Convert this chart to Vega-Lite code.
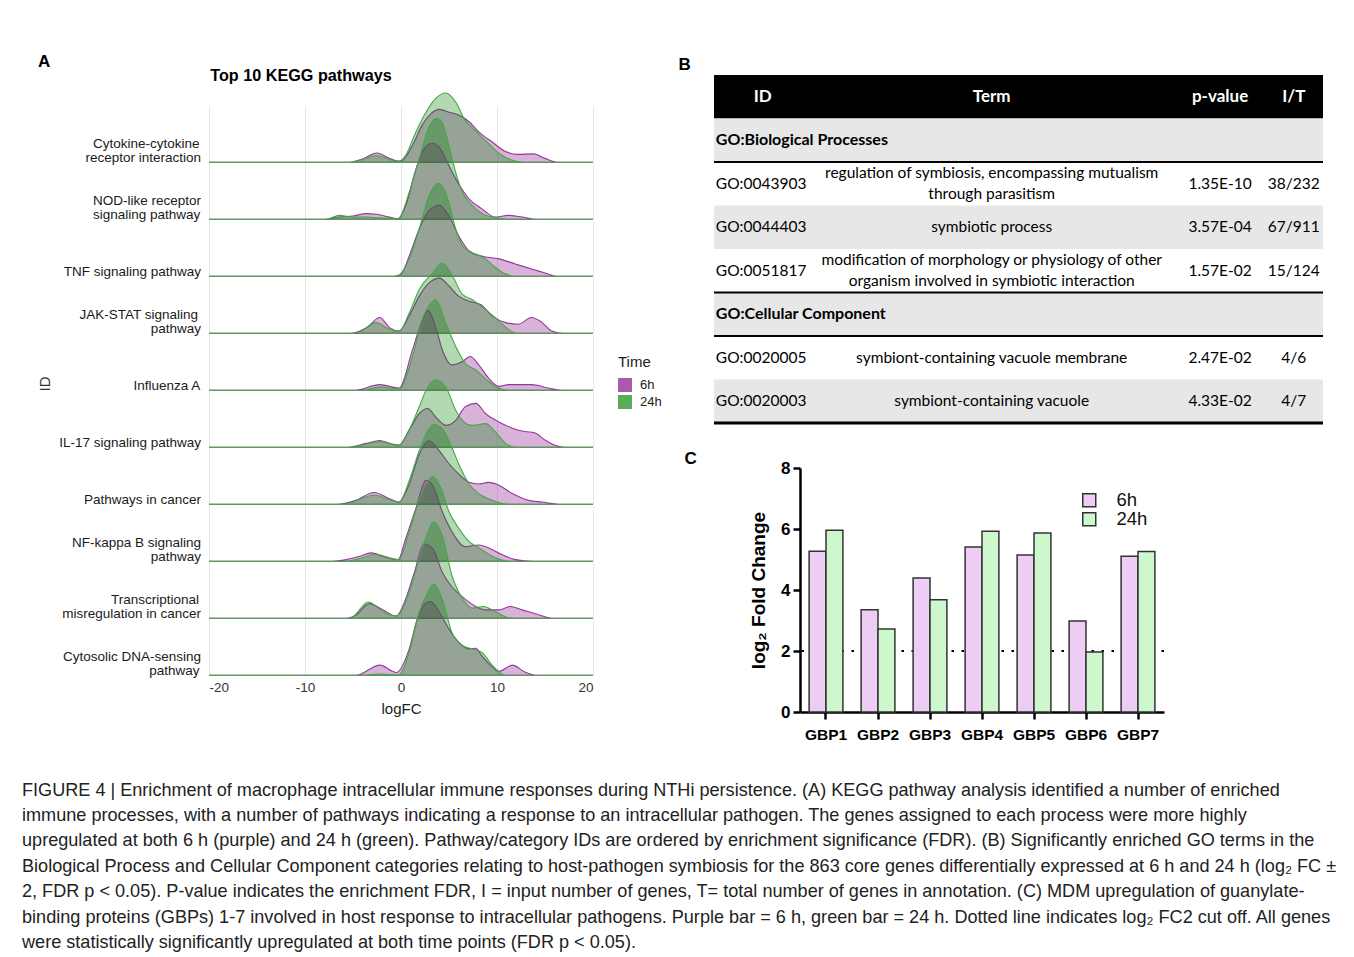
{
  "$schema": "https://vega.github.io/schema/vega-lite/v6.json",
  "background": "white",
  "padding": {"left": 22, "top": 53, "right": 0, "bottom": 0},
  "config": {
    "view": {"stroke": null},
    "font": "Liberation Sans",
    "title": {"font": "Liberation Sans", "color": "black"},
    "axis": {"labelFont": "Liberation Sans", "titleFont": "Liberation Sans"},
    "legend": {"labelFont": "Liberation Sans", "titleFont": "Liberation Sans"},
    "header": {"labelFont": "Liberation Sans", "titleFont": "Liberation Sans"}
  },
  "title": {
    "text": [
      "FIGURE 4 | Enrichment of macrophage intracellular immune responses during NTHi persistence. (A) KEGG pathway analysis identified a number of enriched",
      "immune processes, with a number of pathways indicating a response to an intracellular pathogen. The genes assigned to each process were more highly",
      "upregulated at both 6 h (purple) and 24 h (green). Pathway/category IDs are ordered by enrichment significance (FDR). (B) Significantly enriched GO terms in the",
      "Biological Process and Cellular Component categories relating to host-pathogen symbiosis for the 863 core genes differentially expressed at 6 h and 24 h (log₂ FC ±",
      "2, FDR p < 0.05). P-value indicates the enrichment FDR, I = input number of genes, T= total number of genes in annotation. (C) MDM upregulation of guanylate-",
      "binding proteins (GBPs) 1-7 involved in host response to intracellular pathogens. Purple bar = 6 h, green bar = 24 h. Dotted line indicates log₂ FC2 cut off. All genes",
      "were statistically significantly upregulated at both time points (FDR p < 0.05)."
    ],
    "orient": "bottom",
    "anchor": "start",
    "frame": "bounds",
    "dx": -16,
    "offset": 39,
    "fontSize": 18.1,
    "fontWeight": "normal",
    "lineHeight": 25.4,
    "color": "#222222"
  },
  "spacing": 16,
  "resolve": {"scale": {"fill": "independent", "stroke": "independent", "x": "independent", "y": "independent"}},
  "hconcat": [
    {
      "title": {"text": "A", "anchor": "start", "frame": "bounds", "fontSize": 17, "fontWeight": "bold", "offset": -3},
      "spacing": 5,
      "vconcat": [
        {
          "width": 184,
          "height": 2,
          "data": {"values": [{"label": "Top 10 KEGG pathways"}]},
          "mark": {"type": "text", "fontSize": 16.2, "fontWeight": "bold", "color": "#000000", "align": "center", "baseline": "middle"},
          "encoding": {"text": {"field": "label"}}
        },
        {
          "data": {"values": [
{"ID":"Cytokine-cytokine receptor interaction","Time":"6h","logFC":-20,"density":0},
{"ID":"Cytokine-cytokine receptor interaction","Time":"6h","logFC":-5.4,"density":0},
{"ID":"Cytokine-cytokine receptor interaction","Time":"6h","logFC":-4,"density":0.06},
{"ID":"Cytokine-cytokine receptor interaction","Time":"6h","logFC":-2.5,"density":0.165},
{"ID":"Cytokine-cytokine receptor interaction","Time":"6h","logFC":-1.2,"density":0.07},
{"ID":"Cytokine-cytokine receptor interaction","Time":"6h","logFC":-0.3,"density":0.02},
{"ID":"Cytokine-cytokine receptor interaction","Time":"6h","logFC":0.2,"density":0.04},
{"ID":"Cytokine-cytokine receptor interaction","Time":"6h","logFC":1.2,"density":0.3},
{"ID":"Cytokine-cytokine receptor interaction","Time":"6h","logFC":2.2,"density":0.66},
{"ID":"Cytokine-cytokine receptor interaction","Time":"6h","logFC":3.1,"density":0.86},
{"ID":"Cytokine-cytokine receptor interaction","Time":"6h","logFC":4.0,"density":0.94},
{"ID":"Cytokine-cytokine receptor interaction","Time":"6h","logFC":5.0,"density":0.89},
{"ID":"Cytokine-cytokine receptor interaction","Time":"6h","logFC":6.0,"density":0.84},
{"ID":"Cytokine-cytokine receptor interaction","Time":"6h","logFC":7.1,"density":0.72},
{"ID":"Cytokine-cytokine receptor interaction","Time":"6h","logFC":8.1,"density":0.54},
{"ID":"Cytokine-cytokine receptor interaction","Time":"6h","logFC":9.5,"density":0.36},
{"ID":"Cytokine-cytokine receptor interaction","Time":"6h","logFC":10.9,"density":0.19},
{"ID":"Cytokine-cytokine receptor interaction","Time":"6h","logFC":12.2,"density":0.14},
{"ID":"Cytokine-cytokine receptor interaction","Time":"6h","logFC":13.8,"density":0.15},
{"ID":"Cytokine-cytokine receptor interaction","Time":"6h","logFC":15.0,"density":0.07},
{"ID":"Cytokine-cytokine receptor interaction","Time":"6h","logFC":16.4,"density":0},
{"ID":"Cytokine-cytokine receptor interaction","Time":"6h","logFC":20,"density":0},
{"ID":"Cytokine-cytokine receptor interaction","Time":"24h","logFC":-20,"density":0},
{"ID":"Cytokine-cytokine receptor interaction","Time":"24h","logFC":-5.3,"density":0},
{"ID":"Cytokine-cytokine receptor interaction","Time":"24h","logFC":-4,"density":0.05},
{"ID":"Cytokine-cytokine receptor interaction","Time":"24h","logFC":-2.6,"density":0.12},
{"ID":"Cytokine-cytokine receptor interaction","Time":"24h","logFC":-1.2,"density":0.05},
{"ID":"Cytokine-cytokine receptor interaction","Time":"24h","logFC":-0.3,"density":0.01},
{"ID":"Cytokine-cytokine receptor interaction","Time":"24h","logFC":0.5,"density":0.13},
{"ID":"Cytokine-cytokine receptor interaction","Time":"24h","logFC":1.55,"density":0.54},
{"ID":"Cytokine-cytokine receptor interaction","Time":"24h","logFC":2.6,"density":0.89},
{"ID":"Cytokine-cytokine receptor interaction","Time":"24h","logFC":3.6,"density":1.13},
{"ID":"Cytokine-cytokine receptor interaction","Time":"24h","logFC":4.66,"density":1.23},
{"ID":"Cytokine-cytokine receptor interaction","Time":"24h","logFC":5.7,"density":1.07},
{"ID":"Cytokine-cytokine receptor interaction","Time":"24h","logFC":6.7,"density":0.74},
{"ID":"Cytokine-cytokine receptor interaction","Time":"24h","logFC":7.4,"density":0.62},
{"ID":"Cytokine-cytokine receptor interaction","Time":"24h","logFC":8.8,"density":0.39},
{"ID":"Cytokine-cytokine receptor interaction","Time":"24h","logFC":10.2,"density":0.16},
{"ID":"Cytokine-cytokine receptor interaction","Time":"24h","logFC":11.5,"density":0.04},
{"ID":"Cytokine-cytokine receptor interaction","Time":"24h","logFC":12.9,"density":0},
{"ID":"Cytokine-cytokine receptor interaction","Time":"24h","logFC":20,"density":0},
{"ID":"NOD-like receptor signaling pathway","Time":"6h","logFC":-20,"density":0},
{"ID":"NOD-like receptor signaling pathway","Time":"6h","logFC":-8.1,"density":0},
{"ID":"NOD-like receptor signaling pathway","Time":"6h","logFC":-6.4,"density":0.04},
{"ID":"NOD-like receptor signaling pathway","Time":"6h","logFC":-5,"density":0.06},
{"ID":"NOD-like receptor signaling pathway","Time":"6h","logFC":-3.6,"density":0.1},
{"ID":"NOD-like receptor signaling pathway","Time":"6h","logFC":-2.6,"density":0.09},
{"ID":"NOD-like receptor signaling pathway","Time":"6h","logFC":-1.2,"density":0.04},
{"ID":"NOD-like receptor signaling pathway","Time":"6h","logFC":-0.3,"density":0.01},
{"ID":"NOD-like receptor signaling pathway","Time":"6h","logFC":0.5,"density":0.25},
{"ID":"NOD-like receptor signaling pathway","Time":"6h","logFC":1.55,"density":0.89},
{"ID":"NOD-like receptor signaling pathway","Time":"6h","logFC":2.4,"density":1.25},
{"ID":"NOD-like receptor signaling pathway","Time":"6h","logFC":3.3,"density":1.35},
{"ID":"NOD-like receptor signaling pathway","Time":"6h","logFC":4.1,"density":1.25},
{"ID":"NOD-like receptor signaling pathway","Time":"6h","logFC":5.0,"density":0.95},
{"ID":"NOD-like receptor signaling pathway","Time":"6h","logFC":6.0,"density":0.63},
{"ID":"NOD-like receptor signaling pathway","Time":"6h","logFC":7.1,"density":0.36},
{"ID":"NOD-like receptor signaling pathway","Time":"6h","logFC":8.4,"density":0.19},
{"ID":"NOD-like receptor signaling pathway","Time":"6h","logFC":9.8,"density":0.04},
{"ID":"NOD-like receptor signaling pathway","Time":"6h","logFC":11.2,"density":0.07},
{"ID":"NOD-like receptor signaling pathway","Time":"6h","logFC":12.6,"density":0.04},
{"ID":"NOD-like receptor signaling pathway","Time":"6h","logFC":14.1,"density":0},
{"ID":"NOD-like receptor signaling pathway","Time":"6h","logFC":20,"density":0},
{"ID":"NOD-like receptor signaling pathway","Time":"24h","logFC":-20,"density":0},
{"ID":"NOD-like receptor signaling pathway","Time":"24h","logFC":-7.8,"density":0},
{"ID":"NOD-like receptor signaling pathway","Time":"24h","logFC":-6.4,"density":0.07},
{"ID":"NOD-like receptor signaling pathway","Time":"24h","logFC":-5,"density":0.04},
{"ID":"NOD-like receptor signaling pathway","Time":"24h","logFC":-3.6,"density":0.04},
{"ID":"NOD-like receptor signaling pathway","Time":"24h","logFC":-1.5,"density":0.02},
{"ID":"NOD-like receptor signaling pathway","Time":"24h","logFC":-0.3,"density":0.01},
{"ID":"NOD-like receptor signaling pathway","Time":"24h","logFC":0.86,"density":0.48},
{"ID":"NOD-like receptor signaling pathway","Time":"24h","logFC":1.9,"density":1.07},
{"ID":"NOD-like receptor signaling pathway","Time":"24h","logFC":2.9,"density":1.63},
{"ID":"NOD-like receptor signaling pathway","Time":"24h","logFC":3.7,"density":1.79},
{"ID":"NOD-like receptor signaling pathway","Time":"24h","logFC":4.3,"density":1.72},
{"ID":"NOD-like receptor signaling pathway","Time":"24h","logFC":5.0,"density":1.3},
{"ID":"NOD-like receptor signaling pathway","Time":"24h","logFC":5.7,"density":0.83},
{"ID":"NOD-like receptor signaling pathway","Time":"24h","logFC":6.4,"density":0.48},
{"ID":"NOD-like receptor signaling pathway","Time":"24h","logFC":7.4,"density":0.25},
{"ID":"NOD-like receptor signaling pathway","Time":"24h","logFC":8.8,"density":0.07},
{"ID":"NOD-like receptor signaling pathway","Time":"24h","logFC":10.2,"density":0.02},
{"ID":"NOD-like receptor signaling pathway","Time":"24h","logFC":11,"density":0},
{"ID":"NOD-like receptor signaling pathway","Time":"24h","logFC":20,"density":0},
{"ID":"TNF signaling pathway","Time":"6h","logFC":-20,"density":0},
{"ID":"TNF signaling pathway","Time":"6h","logFC":-0.7,"density":0},
{"ID":"TNF signaling pathway","Time":"6h","logFC":0,"density":0.04},
{"ID":"TNF signaling pathway","Time":"6h","logFC":0.86,"density":0.36},
{"ID":"TNF signaling pathway","Time":"6h","logFC":1.9,"density":0.84},
{"ID":"TNF signaling pathway","Time":"6h","logFC":2.9,"density":1.16},
{"ID":"TNF signaling pathway","Time":"6h","logFC":4.0,"density":1.26},
{"ID":"TNF signaling pathway","Time":"6h","logFC":5.0,"density":1.07},
{"ID":"TNF signaling pathway","Time":"6h","logFC":6.0,"density":0.72},
{"ID":"TNF signaling pathway","Time":"6h","logFC":7.1,"density":0.45},
{"ID":"TNF signaling pathway","Time":"6h","logFC":8.4,"density":0.36},
{"ID":"TNF signaling pathway","Time":"6h","logFC":10.2,"density":0.31},
{"ID":"TNF signaling pathway","Time":"6h","logFC":11.9,"density":0.22},
{"ID":"TNF signaling pathway","Time":"6h","logFC":13.6,"density":0.13},
{"ID":"TNF signaling pathway","Time":"6h","logFC":15.0,"density":0.06},
{"ID":"TNF signaling pathway","Time":"6h","logFC":16.2,"density":0},
{"ID":"TNF signaling pathway","Time":"6h","logFC":20,"density":0},
{"ID":"TNF signaling pathway","Time":"24h","logFC":-20,"density":0},
{"ID":"TNF signaling pathway","Time":"24h","logFC":-0.5,"density":0},
{"ID":"TNF signaling pathway","Time":"24h","logFC":0.86,"density":0.31},
{"ID":"TNF signaling pathway","Time":"24h","logFC":1.9,"density":0.84},
{"ID":"TNF signaling pathway","Time":"24h","logFC":2.9,"density":1.42},
{"ID":"TNF signaling pathway","Time":"24h","logFC":3.9,"density":1.65},
{"ID":"TNF signaling pathway","Time":"24h","logFC":4.66,"density":1.48},
{"ID":"TNF signaling pathway","Time":"24h","logFC":5.7,"density":0.84},
{"ID":"TNF signaling pathway","Time":"24h","logFC":6.4,"density":0.54},
{"ID":"TNF signaling pathway","Time":"24h","logFC":7.4,"density":0.42},
{"ID":"TNF signaling pathway","Time":"24h","logFC":8.8,"density":0.31},
{"ID":"TNF signaling pathway","Time":"24h","logFC":9.8,"density":0.16},
{"ID":"TNF signaling pathway","Time":"24h","logFC":10.9,"density":0.04},
{"ID":"TNF signaling pathway","Time":"24h","logFC":11.9,"density":0},
{"ID":"TNF signaling pathway","Time":"24h","logFC":20,"density":0},
{"ID":"JAK-STAT signaling pathway","Time":"6h","logFC":-20,"density":0},
{"ID":"JAK-STAT signaling pathway","Time":"6h","logFC":-5.3,"density":0},
{"ID":"JAK-STAT signaling pathway","Time":"6h","logFC":-3.6,"density":0.1},
{"ID":"JAK-STAT signaling pathway","Time":"6h","logFC":-2.2,"density":0.28},
{"ID":"JAK-STAT signaling pathway","Time":"6h","logFC":-1.2,"density":0.1},
{"ID":"JAK-STAT signaling pathway","Time":"6h","logFC":-0.2,"density":0.04},
{"ID":"JAK-STAT signaling pathway","Time":"6h","logFC":0.86,"density":0.31},
{"ID":"JAK-STAT signaling pathway","Time":"6h","logFC":1.9,"density":0.66},
{"ID":"JAK-STAT signaling pathway","Time":"6h","logFC":2.9,"density":0.89},
{"ID":"JAK-STAT signaling pathway","Time":"6h","logFC":4.0,"density":0.98},
{"ID":"JAK-STAT signaling pathway","Time":"6h","logFC":5.0,"density":0.84},
{"ID":"JAK-STAT signaling pathway","Time":"6h","logFC":6.0,"density":0.66},
{"ID":"JAK-STAT signaling pathway","Time":"6h","logFC":7.1,"density":0.57},
{"ID":"JAK-STAT signaling pathway","Time":"6h","logFC":8.3,"density":0.51},
{"ID":"JAK-STAT signaling pathway","Time":"6h","logFC":9.5,"density":0.31},
{"ID":"JAK-STAT signaling pathway","Time":"6h","logFC":10.9,"density":0.19},
{"ID":"JAK-STAT signaling pathway","Time":"6h","logFC":12.2,"density":0.16},
{"ID":"JAK-STAT signaling pathway","Time":"6h","logFC":13.6,"density":0.28},
{"ID":"JAK-STAT signaling pathway","Time":"6h","logFC":14.7,"density":0.19},
{"ID":"JAK-STAT signaling pathway","Time":"6h","logFC":15.7,"density":0.04},
{"ID":"JAK-STAT signaling pathway","Time":"6h","logFC":16.9,"density":0},
{"ID":"JAK-STAT signaling pathway","Time":"6h","logFC":20,"density":0},
{"ID":"JAK-STAT signaling pathway","Time":"24h","logFC":-20,"density":0},
{"ID":"JAK-STAT signaling pathway","Time":"24h","logFC":-4.6,"density":0},
{"ID":"JAK-STAT signaling pathway","Time":"24h","logFC":-2.6,"density":0.19},
{"ID":"JAK-STAT signaling pathway","Time":"24h","logFC":-1.2,"density":0.07},
{"ID":"JAK-STAT signaling pathway","Time":"24h","logFC":-0.2,"density":0.03},
{"ID":"JAK-STAT signaling pathway","Time":"24h","logFC":0.86,"density":0.36},
{"ID":"JAK-STAT signaling pathway","Time":"24h","logFC":1.9,"density":0.78},
{"ID":"JAK-STAT signaling pathway","Time":"24h","logFC":3.3,"density":1.07},
{"ID":"JAK-STAT signaling pathway","Time":"24h","logFC":4.3,"density":1.25},
{"ID":"JAK-STAT signaling pathway","Time":"24h","logFC":5.3,"density":1.04},
{"ID":"JAK-STAT signaling pathway","Time":"24h","logFC":6.4,"density":0.69},
{"ID":"JAK-STAT signaling pathway","Time":"24h","logFC":7.4,"density":0.6},
{"ID":"JAK-STAT signaling pathway","Time":"24h","logFC":8.8,"density":0.42},
{"ID":"JAK-STAT signaling pathway","Time":"24h","logFC":10.2,"density":0.22},
{"ID":"JAK-STAT signaling pathway","Time":"24h","logFC":11.2,"density":0.07},
{"ID":"JAK-STAT signaling pathway","Time":"24h","logFC":12.2,"density":0},
{"ID":"JAK-STAT signaling pathway","Time":"24h","logFC":20,"density":0},
{"ID":"Influenza A","Time":"6h","logFC":-20,"density":0},
{"ID":"Influenza A","Time":"6h","logFC":-4.8,"density":0},
{"ID":"Influenza A","Time":"6h","logFC":-2.2,"density":0.1},
{"ID":"Influenza A","Time":"6h","logFC":-0.2,"density":0.04},
{"ID":"Influenza A","Time":"6h","logFC":1.2,"density":0.72},
{"ID":"Influenza A","Time":"6h","logFC":2.1,"density":1.19},
{"ID":"Influenza A","Time":"6h","logFC":2.8,"density":1.42},
{"ID":"Influenza A","Time":"6h","logFC":3.6,"density":1.13},
{"ID":"Influenza A","Time":"6h","logFC":4.3,"density":0.72},
{"ID":"Influenza A","Time":"6h","logFC":5.3,"density":0.45},
{"ID":"Influenza A","Time":"6h","logFC":6.4,"density":0.51},
{"ID":"Influenza A","Time":"6h","logFC":7.2,"density":0.6},
{"ID":"Influenza A","Time":"6h","logFC":8.1,"density":0.45},
{"ID":"Influenza A","Time":"6h","logFC":9.1,"density":0.22},
{"ID":"Influenza A","Time":"6h","logFC":10.2,"density":0.07},
{"ID":"Influenza A","Time":"6h","logFC":11.2,"density":0.1},
{"ID":"Influenza A","Time":"6h","logFC":13.6,"density":0.1},
{"ID":"Influenza A","Time":"6h","logFC":15.3,"density":0.04},
{"ID":"Influenza A","Time":"6h","logFC":16.7,"density":0},
{"ID":"Influenza A","Time":"6h","logFC":20,"density":0},
{"ID":"Influenza A","Time":"24h","logFC":-20,"density":0},
{"ID":"Influenza A","Time":"24h","logFC":-4,"density":0},
{"ID":"Influenza A","Time":"24h","logFC":-2.2,"density":0.06},
{"ID":"Influenza A","Time":"24h","logFC":-0.2,"density":0.02},
{"ID":"Influenza A","Time":"24h","logFC":1.2,"density":0.6},
{"ID":"Influenza A","Time":"24h","logFC":2.2,"density":1.25},
{"ID":"Influenza A","Time":"24h","logFC":3.1,"density":1.54},
{"ID":"Influenza A","Time":"24h","logFC":3.6,"density":1.61},
{"ID":"Influenza A","Time":"24h","logFC":4.66,"density":1.19},
{"ID":"Influenza A","Time":"24h","logFC":5.7,"density":0.78},
{"ID":"Influenza A","Time":"24h","logFC":6.7,"density":0.48},
{"ID":"Influenza A","Time":"24h","logFC":7.8,"density":0.36},
{"ID":"Influenza A","Time":"24h","logFC":9.1,"density":0.16},
{"ID":"Influenza A","Time":"24h","logFC":10.5,"density":0.02},
{"ID":"Influenza A","Time":"24h","logFC":11.5,"density":0},
{"ID":"Influenza A","Time":"24h","logFC":20,"density":0},
{"ID":"IL-17 signaling pathway","Time":"6h","logFC":-20,"density":0},
{"ID":"IL-17 signaling pathway","Time":"6h","logFC":-5.7,"density":0},
{"ID":"IL-17 signaling pathway","Time":"6h","logFC":-3.6,"density":0.07},
{"ID":"IL-17 signaling pathway","Time":"6h","logFC":-2.2,"density":0.12},
{"ID":"IL-17 signaling pathway","Time":"6h","logFC":-1.2,"density":0.07},
{"ID":"IL-17 signaling pathway","Time":"6h","logFC":-0.2,"density":0.04},
{"ID":"IL-17 signaling pathway","Time":"6h","logFC":0.86,"density":0.31},
{"ID":"IL-17 signaling pathway","Time":"6h","logFC":1.9,"density":0.6},
{"ID":"IL-17 signaling pathway","Time":"6h","logFC":2.8,"density":0.69},
{"ID":"IL-17 signaling pathway","Time":"6h","logFC":3.6,"density":0.54},
{"ID":"IL-17 signaling pathway","Time":"6h","logFC":4.66,"density":0.39},
{"ID":"IL-17 signaling pathway","Time":"6h","logFC":5.7,"density":0.48},
{"ID":"IL-17 signaling pathway","Time":"6h","logFC":6.7,"density":0.72},
{"ID":"IL-17 signaling pathway","Time":"6h","logFC":7.8,"density":0.78},
{"ID":"IL-17 signaling pathway","Time":"6h","logFC":8.8,"density":0.6},
{"ID":"IL-17 signaling pathway","Time":"6h","logFC":10.2,"density":0.45},
{"ID":"IL-17 signaling pathway","Time":"6h","logFC":11.6,"density":0.34},
{"ID":"IL-17 signaling pathway","Time":"6h","logFC":12.9,"density":0.28},
{"ID":"IL-17 signaling pathway","Time":"6h","logFC":13.9,"density":0.26},
{"ID":"IL-17 signaling pathway","Time":"6h","logFC":15.0,"density":0.13},
{"ID":"IL-17 signaling pathway","Time":"6h","logFC":16.0,"density":0.04},
{"ID":"IL-17 signaling pathway","Time":"6h","logFC":17.1,"density":0},
{"ID":"IL-17 signaling pathway","Time":"6h","logFC":20,"density":0},
{"ID":"IL-17 signaling pathway","Time":"24h","logFC":-20,"density":0},
{"ID":"IL-17 signaling pathway","Time":"24h","logFC":-5.3,"density":0},
{"ID":"IL-17 signaling pathway","Time":"24h","logFC":-2.2,"density":0.1},
{"ID":"IL-17 signaling pathway","Time":"24h","logFC":-0.2,"density":0.03},
{"ID":"IL-17 signaling pathway","Time":"24h","logFC":0.86,"density":0.31},
{"ID":"IL-17 signaling pathway","Time":"24h","logFC":1.9,"density":0.72},
{"ID":"IL-17 signaling pathway","Time":"24h","logFC":2.6,"density":1.01},
{"ID":"IL-17 signaling pathway","Time":"24h","logFC":3.6,"density":1.2},
{"ID":"IL-17 signaling pathway","Time":"24h","logFC":4.66,"density":1.07},
{"ID":"IL-17 signaling pathway","Time":"24h","logFC":5.7,"density":0.66},
{"ID":"IL-17 signaling pathway","Time":"24h","logFC":6.4,"density":0.48},
{"ID":"IL-17 signaling pathway","Time":"24h","logFC":7.4,"density":0.39},
{"ID":"IL-17 signaling pathway","Time":"24h","logFC":8.8,"density":0.42},
{"ID":"IL-17 signaling pathway","Time":"24h","logFC":9.8,"density":0.28},
{"ID":"IL-17 signaling pathway","Time":"24h","logFC":10.9,"density":0.07},
{"ID":"IL-17 signaling pathway","Time":"24h","logFC":11.9,"density":0},
{"ID":"IL-17 signaling pathway","Time":"24h","logFC":20,"density":0},
{"ID":"Pathways in cancer","Time":"6h","logFC":-20,"density":0},
{"ID":"Pathways in cancer","Time":"6h","logFC":-6.7,"density":0},
{"ID":"Pathways in cancer","Time":"6h","logFC":-4.7,"density":0.07},
{"ID":"Pathways in cancer","Time":"6h","logFC":-2.8,"density":0.21},
{"ID":"Pathways in cancer","Time":"6h","logFC":-1.2,"density":0.1},
{"ID":"Pathways in cancer","Time":"6h","logFC":-0.2,"density":0.04},
{"ID":"Pathways in cancer","Time":"6h","logFC":0.86,"density":0.36},
{"ID":"Pathways in cancer","Time":"6h","logFC":1.9,"density":0.89},
{"ID":"Pathways in cancer","Time":"6h","logFC":2.9,"density":1.13},
{"ID":"Pathways in cancer","Time":"6h","logFC":4.0,"density":0.95},
{"ID":"Pathways in cancer","Time":"6h","logFC":5.0,"density":0.72},
{"ID":"Pathways in cancer","Time":"6h","logFC":6.0,"density":0.54},
{"ID":"Pathways in cancer","Time":"6h","logFC":7.1,"density":0.39},
{"ID":"Pathways in cancer","Time":"6h","logFC":8.1,"density":0.36},
{"ID":"Pathways in cancer","Time":"6h","logFC":9.1,"density":0.39},
{"ID":"Pathways in cancer","Time":"6h","logFC":10.2,"density":0.34},
{"ID":"Pathways in cancer","Time":"6h","logFC":11.6,"density":0.19},
{"ID":"Pathways in cancer","Time":"6h","logFC":13.3,"density":0.07},
{"ID":"Pathways in cancer","Time":"6h","logFC":14.7,"density":0.04},
{"ID":"Pathways in cancer","Time":"6h","logFC":16.7,"density":0},
{"ID":"Pathways in cancer","Time":"6h","logFC":20,"density":0},
{"ID":"Pathways in cancer","Time":"24h","logFC":-20,"density":0},
{"ID":"Pathways in cancer","Time":"24h","logFC":-6,"density":0},
{"ID":"Pathways in cancer","Time":"24h","logFC":-2.8,"density":0.16},
{"ID":"Pathways in cancer","Time":"24h","logFC":-0.2,"density":0.04},
{"ID":"Pathways in cancer","Time":"24h","logFC":0.86,"density":0.42},
{"ID":"Pathways in cancer","Time":"24h","logFC":1.9,"density":0.95},
{"ID":"Pathways in cancer","Time":"24h","logFC":2.8,"density":1.31},
{"ID":"Pathways in cancer","Time":"24h","logFC":3.4,"density":1.42},
{"ID":"Pathways in cancer","Time":"24h","logFC":4.3,"density":1.34},
{"ID":"Pathways in cancer","Time":"24h","logFC":5.3,"density":1.01},
{"ID":"Pathways in cancer","Time":"24h","logFC":6.0,"density":0.72},
{"ID":"Pathways in cancer","Time":"24h","logFC":7.1,"density":0.36},
{"ID":"Pathways in cancer","Time":"24h","logFC":8.1,"density":0.19},
{"ID":"Pathways in cancer","Time":"24h","logFC":9.1,"density":0.1},
{"ID":"Pathways in cancer","Time":"24h","logFC":10.5,"density":0.02},
{"ID":"Pathways in cancer","Time":"24h","logFC":11.5,"density":0},
{"ID":"Pathways in cancer","Time":"24h","logFC":20,"density":0},
{"ID":"NF-kappa B signaling pathway","Time":"6h","logFC":-20,"density":0},
{"ID":"NF-kappa B signaling pathway","Time":"6h","logFC":-7.2,"density":0},
{"ID":"NF-kappa B signaling pathway","Time":"6h","logFC":-5.7,"density":0.03},
{"ID":"NF-kappa B signaling pathway","Time":"6h","logFC":-4.3,"density":0.09},
{"ID":"NF-kappa B signaling pathway","Time":"6h","logFC":-3.1,"density":0.15},
{"ID":"NF-kappa B signaling pathway","Time":"6h","logFC":-1.9,"density":0.09},
{"ID":"NF-kappa B signaling pathway","Time":"6h","logFC":-0.3,"density":0.03},
{"ID":"NF-kappa B signaling pathway","Time":"6h","logFC":0.5,"density":0.41},
{"ID":"NF-kappa B signaling pathway","Time":"6h","logFC":1.55,"density":0.94},
{"ID":"NF-kappa B signaling pathway","Time":"6h","logFC":2.6,"density":1.44},
{"ID":"NF-kappa B signaling pathway","Time":"6h","logFC":3.3,"density":1.35},
{"ID":"NF-kappa B signaling pathway","Time":"6h","logFC":4.3,"density":0.88},
{"ID":"NF-kappa B signaling pathway","Time":"6h","logFC":5.3,"density":0.53},
{"ID":"NF-kappa B signaling pathway","Time":"6h","logFC":6.7,"density":0.26},
{"ID":"NF-kappa B signaling pathway","Time":"6h","logFC":8.1,"density":0.29},
{"ID":"NF-kappa B signaling pathway","Time":"6h","logFC":9.1,"density":0.24},
{"ID":"NF-kappa B signaling pathway","Time":"6h","logFC":10.5,"density":0.12},
{"ID":"NF-kappa B signaling pathway","Time":"6h","logFC":11.9,"density":0.03},
{"ID":"NF-kappa B signaling pathway","Time":"6h","logFC":13.8,"density":0},
{"ID":"NF-kappa B signaling pathway","Time":"6h","logFC":20,"density":0},
{"ID":"NF-kappa B signaling pathway","Time":"24h","logFC":-20,"density":0},
{"ID":"NF-kappa B signaling pathway","Time":"24h","logFC":-6,"density":0},
{"ID":"NF-kappa B signaling pathway","Time":"24h","logFC":-4.3,"density":0.05},
{"ID":"NF-kappa B signaling pathway","Time":"24h","logFC":-2.6,"density":0.13},
{"ID":"NF-kappa B signaling pathway","Time":"24h","logFC":-1.6,"density":0.08},
{"ID":"NF-kappa B signaling pathway","Time":"24h","logFC":-0.2,"density":0.03},
{"ID":"NF-kappa B signaling pathway","Time":"24h","logFC":0.86,"density":0.53},
{"ID":"NF-kappa B signaling pathway","Time":"24h","logFC":1.9,"density":1.09},
{"ID":"NF-kappa B signaling pathway","Time":"24h","logFC":2.8,"density":1.41},
{"ID":"NF-kappa B signaling pathway","Time":"24h","logFC":3.3,"density":1.5},
{"ID":"NF-kappa B signaling pathway","Time":"24h","logFC":4.1,"density":1.32},
{"ID":"NF-kappa B signaling pathway","Time":"24h","logFC":5.0,"density":0.88},
{"ID":"NF-kappa B signaling pathway","Time":"24h","logFC":6.0,"density":0.59},
{"ID":"NF-kappa B signaling pathway","Time":"24h","logFC":7.1,"density":0.35},
{"ID":"NF-kappa B signaling pathway","Time":"24h","logFC":8.1,"density":0.24},
{"ID":"NF-kappa B signaling pathway","Time":"24h","logFC":9.5,"density":0.09},
{"ID":"NF-kappa B signaling pathway","Time":"24h","logFC":10.9,"density":0.01},
{"ID":"NF-kappa B signaling pathway","Time":"24h","logFC":12,"density":0},
{"ID":"NF-kappa B signaling pathway","Time":"24h","logFC":20,"density":0},
{"ID":"Transcriptional misregulation in cancer","Time":"6h","logFC":-20,"density":0},
{"ID":"Transcriptional misregulation in cancer","Time":"6h","logFC":-5.7,"density":0},
{"ID":"Transcriptional misregulation in cancer","Time":"6h","logFC":-4.7,"density":0.06},
{"ID":"Transcriptional misregulation in cancer","Time":"6h","logFC":-3.3,"density":0.26},
{"ID":"Transcriptional misregulation in cancer","Time":"6h","logFC":-1.9,"density":0.15},
{"ID":"Transcriptional misregulation in cancer","Time":"6h","logFC":-0.5,"density":0.04},
{"ID":"Transcriptional misregulation in cancer","Time":"6h","logFC":0.5,"density":0.35},
{"ID":"Transcriptional misregulation in cancer","Time":"6h","logFC":1.4,"density":0.82},
{"ID":"Transcriptional misregulation in cancer","Time":"6h","logFC":2.4,"density":1.32},
{"ID":"Transcriptional misregulation in cancer","Time":"6h","logFC":3.3,"density":1.24},
{"ID":"Transcriptional misregulation in cancer","Time":"6h","logFC":4.3,"density":0.82},
{"ID":"Transcriptional misregulation in cancer","Time":"6h","logFC":5.3,"density":0.56},
{"ID":"Transcriptional misregulation in cancer","Time":"6h","logFC":6.4,"density":0.38},
{"ID":"Transcriptional misregulation in cancer","Time":"6h","logFC":7.8,"density":0.21},
{"ID":"Transcriptional misregulation in cancer","Time":"6h","logFC":8.8,"density":0.15},
{"ID":"Transcriptional misregulation in cancer","Time":"6h","logFC":10.2,"density":0.15},
{"ID":"Transcriptional misregulation in cancer","Time":"6h","logFC":11.4,"density":0.21},
{"ID":"Transcriptional misregulation in cancer","Time":"6h","logFC":12.6,"density":0.15},
{"ID":"Transcriptional misregulation in cancer","Time":"6h","logFC":14.4,"density":0.06},
{"ID":"Transcriptional misregulation in cancer","Time":"6h","logFC":15.9,"density":0},
{"ID":"Transcriptional misregulation in cancer","Time":"6h","logFC":20,"density":0},
{"ID":"Transcriptional misregulation in cancer","Time":"24h","logFC":-20,"density":0},
{"ID":"Transcriptional misregulation in cancer","Time":"24h","logFC":-5.3,"density":0},
{"ID":"Transcriptional misregulation in cancer","Time":"24h","logFC":-3.4,"density":0.29},
{"ID":"Transcriptional misregulation in cancer","Time":"24h","logFC":-1.9,"density":0.12},
{"ID":"Transcriptional misregulation in cancer","Time":"24h","logFC":-0.5,"density":0.04},
{"ID":"Transcriptional misregulation in cancer","Time":"24h","logFC":0.86,"density":0.47},
{"ID":"Transcriptional misregulation in cancer","Time":"24h","logFC":1.9,"density":1.06},
{"ID":"Transcriptional misregulation in cancer","Time":"24h","logFC":2.8,"density":1.53},
{"ID":"Transcriptional misregulation in cancer","Time":"24h","logFC":3.4,"density":1.71},
{"ID":"Transcriptional misregulation in cancer","Time":"24h","logFC":4.3,"density":1.47},
{"ID":"Transcriptional misregulation in cancer","Time":"24h","logFC":5.3,"density":0.76},
{"ID":"Transcriptional misregulation in cancer","Time":"24h","logFC":6.4,"density":0.35},
{"ID":"Transcriptional misregulation in cancer","Time":"24h","logFC":7.4,"density":0.18},
{"ID":"Transcriptional misregulation in cancer","Time":"24h","logFC":8.6,"density":0.21},
{"ID":"Transcriptional misregulation in cancer","Time":"24h","logFC":9.8,"density":0.12},
{"ID":"Transcriptional misregulation in cancer","Time":"24h","logFC":11.2,"density":0.01},
{"ID":"Transcriptional misregulation in cancer","Time":"24h","logFC":12,"density":0},
{"ID":"Transcriptional misregulation in cancer","Time":"24h","logFC":20,"density":0},
{"ID":"Cytosolic DNA-sensing pathway","Time":"6h","logFC":-20,"density":0},
{"ID":"Cytosolic DNA-sensing pathway","Time":"6h","logFC":-4.7,"density":0},
{"ID":"Cytosolic DNA-sensing pathway","Time":"6h","logFC":-2.2,"density":0.18},
{"ID":"Cytosolic DNA-sensing pathway","Time":"6h","logFC":-0.5,"density":0.05},
{"ID":"Cytosolic DNA-sensing pathway","Time":"6h","logFC":0.86,"density":0.47},
{"ID":"Cytosolic DNA-sensing pathway","Time":"6h","logFC":1.7,"density":1.0},
{"ID":"Cytosolic DNA-sensing pathway","Time":"6h","logFC":2.6,"density":1.29},
{"ID":"Cytosolic DNA-sensing pathway","Time":"6h","logFC":3.1,"density":1.31},
{"ID":"Cytosolic DNA-sensing pathway","Time":"6h","logFC":4.0,"density":1.12},
{"ID":"Cytosolic DNA-sensing pathway","Time":"6h","logFC":5.0,"density":0.82},
{"ID":"Cytosolic DNA-sensing pathway","Time":"6h","logFC":6.0,"density":0.59},
{"ID":"Cytosolic DNA-sensing pathway","Time":"6h","logFC":7.1,"density":0.47},
{"ID":"Cytosolic DNA-sensing pathway","Time":"6h","logFC":7.8,"density":0.48},
{"ID":"Cytosolic DNA-sensing pathway","Time":"6h","logFC":8.4,"density":0.35},
{"ID":"Cytosolic DNA-sensing pathway","Time":"6h","logFC":9.5,"density":0.15},
{"ID":"Cytosolic DNA-sensing pathway","Time":"6h","logFC":10.2,"density":0.07},
{"ID":"Cytosolic DNA-sensing pathway","Time":"6h","logFC":11.6,"density":0.18},
{"ID":"Cytosolic DNA-sensing pathway","Time":"6h","logFC":12.9,"density":0.06},
{"ID":"Cytosolic DNA-sensing pathway","Time":"6h","logFC":14.1,"density":0},
{"ID":"Cytosolic DNA-sensing pathway","Time":"6h","logFC":20,"density":0},
{"ID":"Cytosolic DNA-sensing pathway","Time":"24h","logFC":-20,"density":0},
{"ID":"Cytosolic DNA-sensing pathway","Time":"24h","logFC":-4.3,"density":0},
{"ID":"Cytosolic DNA-sensing pathway","Time":"24h","logFC":-2.2,"density":0.02},
{"ID":"Cytosolic DNA-sensing pathway","Time":"24h","logFC":-0.2,"density":0.01},
{"ID":"Cytosolic DNA-sensing pathway","Time":"24h","logFC":0.86,"density":0.41},
{"ID":"Cytosolic DNA-sensing pathway","Time":"24h","logFC":1.9,"density":1.12},
{"ID":"Cytosolic DNA-sensing pathway","Time":"24h","logFC":2.8,"density":1.47},
{"ID":"Cytosolic DNA-sensing pathway","Time":"24h","logFC":3.4,"density":1.62},
{"ID":"Cytosolic DNA-sensing pathway","Time":"24h","logFC":4.3,"density":1.35},
{"ID":"Cytosolic DNA-sensing pathway","Time":"24h","logFC":5.3,"density":0.76},
{"ID":"Cytosolic DNA-sensing pathway","Time":"24h","logFC":6.4,"density":0.53},
{"ID":"Cytosolic DNA-sensing pathway","Time":"24h","logFC":7.4,"density":0.47},
{"ID":"Cytosolic DNA-sensing pathway","Time":"24h","logFC":8.4,"density":0.41},
{"ID":"Cytosolic DNA-sensing pathway","Time":"24h","logFC":9.5,"density":0.18},
{"ID":"Cytosolic DNA-sensing pathway","Time":"24h","logFC":10.2,"density":0.06},
{"ID":"Cytosolic DNA-sensing pathway","Time":"24h","logFC":10.9,"density":0},
{"ID":"Cytosolic DNA-sensing pathway","Time":"24h","logFC":20,"density":0}
          ]},
          "facet": {
            "row": {
              "field": "ID", "type": "nominal",
              "sort": ["Cytokine-cytokine receptor interaction","NOD-like receptor signaling pathway","TNF signaling pathway","JAK-STAT signaling pathway","Influenza A","IL-17 signaling pathway","Pathways in cancer","NF-kappa B signaling pathway","Transcriptional misregulation in cancer","Cytosolic DNA-sensing pathway"],
              "title": "ID",
              "header": {
                "labelAngle": 0, "labelOrient": "left", "labelAlign": "left", "labelAnchor": "start", "labelBaseline": "alphabetic",
                "labelFontSize": 13.5, "labelColor": "#1a1a1a", "labelPadding": 8, "labelLineHeight": -14.5,
                "labelExpr": "split(datum.value == 'Cytokine-cytokine receptor interaction' ? 'receptor interaction|\u200b\u00a0\u00a0Cytokine-cytokine' : datum.value == 'NOD-like receptor signaling pathway' ? 'signaling pathway|NOD-like receptor' : datum.value == 'JAK-STAT signaling pathway' ? '\u200b\u00a0\u00a0\u00a0\u00a0\u00a0\u00a0\u00a0\u00a0\u00a0\u00a0\u00a0\u00a0\u00a0\u00a0\u00a0\u00a0\u00a0\u00a0\u00a0pathway|JAK-STAT signaling' : datum.value == 'NF-kappa B signaling pathway' ? '\u200b\u00a0\u00a0\u00a0\u00a0\u00a0\u00a0\u00a0\u00a0\u00a0\u00a0\u00a0\u00a0\u00a0\u00a0\u00a0\u00a0\u00a0\u00a0\u00a0\u00a0\u00a0pathway|NF-kappa B signaling' : datum.value == 'Transcriptional misregulation in cancer' ? 'misregulation in cancer|\u200b\u00a0\u00a0\u00a0\u00a0\u00a0\u00a0\u00a0\u00a0\u00a0\u00a0\u00a0\u00a0\u00a0Transcriptional' : datum.value == 'Cytosolic DNA-sensing pathway' ? '\u200b\u00a0\u00a0\u00a0\u00a0\u00a0\u00a0\u00a0\u00a0\u00a0\u00a0\u00a0\u00a0\u00a0\u00a0\u00a0\u00a0\u00a0\u00a0\u00a0\u00a0\u00a0\u00a0\u00a0pathway|Cytosolic DNA-sensing' : datum.value, '|')",
                "titleFontSize": 15, "titleColor": "#333333", "titleFontWeight": "normal", "titlePadding": -4
              }
            }
          },
          "spacing": 0,
          "bounds": "flush",
          "spec": {
            "width": 384,
            "height": 56.3,
            "mark": {"type": "area", "interpolate": "monotone", "fillOpacity": 0.3, "strokeWidth": 1.1, "strokeOpacity": 1},
            "encoding": {
              "x": {"field": "logFC", "type": "quantitative", "scale": {"domain": [-20, 20], "nice": false},
                "axis": {"values": [-20, -10, 0, 10, 20], "labelExpr": "toString(datum.value)", "domain": false, "ticks": false, "grid": true, "gridColor": "#e6e6e6", "gridWidth": 1,
                  "labelFontSize": 13.5, "labelColor": "#333333", "labelPadding": 4, "title": "logFC", "titleFontSize": 15, "titleFontWeight": "normal", "titleColor": "#222222", "titlePadding": 8}},
              "y": {"field": "density", "type": "quantitative", "stack": null, "scale": {"domain": [0, 1], "nice": false, "zero": false}, "axis": null},
              "fill": {"field": "Time", "type": "nominal", "scale": {"domain": ["6h", "24h"], "range": ["#800080", "#008000"]},
                "legend": {"orient": "none", "legendX": 409, "legendY": 280, "title": "Time", "titleFontSize": 15, "titleFontWeight": "normal", "titleColor": "#222222", "titlePadding": 8,
                  "labelFontSize": 13, "labelColor": "#222222", "symbolType": "square", "symbolSize": 196, "symbolStrokeWidth": 0, "symbolOpacity": 0.65, "rowPadding": 3, "labelOffset": 8}},
              "stroke": {"field": "Time", "type": "nominal", "scale": {"domain": ["6h", "24h"], "range": ["#93389b", "#44a844"]}, "legend": null}
            }
          }
        }
      ]
    },
    {
      "spacing": 25,
      "vconcat": [
        {
          "title": {"text": "B", "anchor": "start", "frame": "bounds", "dx": -34, "fontSize": 17, "fontWeight": "bold", "offset": 1},
          "width": 523,
          "height": 348,
          "data": {"values": [
            {"row": 0, "kind": "header", "id": "ID", "term": "Term", "p": "p-value", "it": "I/T"},
            {"row": 1, "kind": "section", "id": "GO:Biological Processes"},
            {"row": 2, "kind": "term", "id": "GO:0043903", "term": "regulation of symbiosis, encompassing mutualism\nthrough parasitism", "p": "1.35E-10", "it": "38/232"},
            {"row": 3, "kind": "term", "id": "GO:0044403", "term": "symbiotic process", "p": "3.57E-04", "it": "67/911"},
            {"row": 4, "kind": "term", "id": "GO:0051817", "term": "modification of morphology or physiology of other\norganism involved in symbiotic interaction", "p": "1.57E-02", "it": "15/124"},
            {"row": 5, "kind": "section", "id": "GO:Cellular Component"},
            {"row": 6, "kind": "term", "id": "GO:0020005", "term": "symbiont-containing vacuole membrane", "p": "2.47E-02", "it": "4/6"},
            {"row": 7, "kind": "term", "id": "GO:0020003", "term": "symbiont-containing vacuole", "p": "4.33E-02", "it": "4/7"}
          ]},
          "encoding": {
            "y": {"field": "row", "type": "ordinal", "axis": null, "scale": {"domain": [0, 1, 2, 3, 4, 5, 6, 7], "paddingInner": 0, "paddingOuter": 0}}
          },
          "layer": [
            {
              "mark": {"type": "rect"},
              "encoding": {
                "x": {"datum": 0, "type": "quantitative", "scale": {"domain": [0.1412, 1], "nice": false, "zero": false}, "axis": null},
                "x2": {"datum": 1},
                "fill": {"condition": [{"test": "datum.row == 0", "value": "#000000"}, {"test": "datum.row % 2 == 1", "value": "#e7e7e7"}], "value": "#ffffff"}
              }
            },
            {
              "transform": [{"filter": "indexof([1, 4, 5, 7], datum.row) >= 0"}],
              "mark": {"type": "rule", "color": "#000000"},
              "encoding": {
                "y": {"field": "row", "type": "ordinal", "bandPosition": 1},
                "x": {"datum": 0, "type": "quantitative"},
                "x2": {"datum": 1},
                "strokeWidth": {"condition": {"test": "datum.row == 7", "value": 3}, "value": 2}
              }
            },
            {
              "transform": [{"filter": "datum.kind == 'header'"}],
              "mark": {"type": "text", "font": "Lato", "fontSize": 17, "fontWeight": "bold", "color": "#ffffff", "align": "center", "baseline": "middle"},
              "encoding": {"x": {"datum": 0.08, "type": "quantitative"}, "text": {"field": "id"}}
            },
            {
              "transform": [{"filter": "datum.kind == 'header'"}],
              "mark": {"type": "text", "font": "Lato", "fontSize": 17, "fontWeight": "bold", "color": "#ffffff", "align": "center", "baseline": "middle"},
              "encoding": {"x": {"datum": 0.456, "type": "quantitative"}, "text": {"field": "term"}}
            },
            {
              "transform": [{"filter": "datum.kind == 'header'"}],
              "mark": {"type": "text", "font": "Lato", "fontSize": 17, "fontWeight": "bold", "color": "#ffffff", "align": "center", "baseline": "middle"},
              "encoding": {"x": {"datum": 0.831, "type": "quantitative"}, "text": {"field": "p"}}
            },
            {
              "transform": [{"filter": "datum.kind == 'header'"}],
              "mark": {"type": "text", "font": "Lato", "fontSize": 17, "fontWeight": "bold", "color": "#ffffff", "align": "center", "baseline": "middle"},
              "encoding": {"x": {"datum": 0.952, "type": "quantitative"}, "text": {"field": "it"}}
            },
            {
              "transform": [{"filter": "datum.kind == 'section'"}],
              "mark": {"type": "text", "font": "Lato", "fontSize": 16, "fontWeight": "bold", "color": "#000000", "align": "left", "baseline": "middle"},
              "encoding": {"x": {"datum": 0.003, "type": "quantitative"}, "text": {"field": "id"}}
            },
            {
              "transform": [{"filter": "datum.kind == 'term'"}],
              "mark": {"type": "text", "font": "Lato", "fontSize": 15.5, "color": "#000000", "align": "left", "baseline": "middle"},
              "encoding": {"x": {"datum": 0.003, "type": "quantitative"}, "text": {"field": "id"}}
            },
            {
              "transform": [{"filter": "datum.kind == 'term' && indexof(datum.term, '\\n') < 0"}],
              "mark": {"type": "text", "font": "Lato", "fontSize": 15.5, "color": "#000000", "align": "center", "baseline": "middle"},
              "encoding": {"x": {"datum": 0.456, "type": "quantitative"}, "text": {"field": "term"}}
            },
            {
              "transform": [{"filter": "datum.kind == 'term' && indexof(datum.term, '\\n') >= 0"}],
              "mark": {"type": "text", "font": "Lato", "fontSize": 15.5, "color": "#000000", "align": "center", "baseline": "line-bottom", "lineBreak": "\n", "lineHeight": 21},
              "encoding": {"x": {"datum": 0.456, "type": "quantitative"}, "text": {"field": "term"}}
            },
            {
              "transform": [{"filter": "datum.kind == 'term'"}],
              "mark": {"type": "text", "font": "Lato", "fontSize": 15.5, "color": "#000000", "align": "center", "baseline": "middle"},
              "encoding": {"x": {"datum": 0.831, "type": "quantitative"}, "text": {"field": "p"}}
            },
            {
              "transform": [{"filter": "datum.kind == 'term'"}],
              "mark": {"type": "text", "font": "Lato", "fontSize": 15.5, "color": "#000000", "align": "center", "baseline": "middle"},
              "encoding": {"x": {"datum": 0.952, "type": "quantitative"}, "text": {"field": "it"}}
            }
          ]
        },
        {
          "title": {"text": "C", "anchor": "start", "frame": "bounds", "dx": -65, "fontSize": 17, "fontWeight": "bold", "offset": -9},
          "width": 364,
          "height": 244,
          "layer": [
            {
              "data": {"values": [{"cutoff": 2}]},
              "mark": {"type": "rule", "strokeDash": [2.5, 7.5], "strokeWidth": 2.2, "color": "#000000"},
              "encoding": {"y": {"field": "cutoff", "type": "quantitative"}}
            },
            {
              "data": {"values": [
                {"gene": "GBP1", "Time": "6h", "log2FC": 5.27}, {"gene": "GBP1", "Time": "24h", "log2FC": 5.96},
                {"gene": "GBP2", "Time": "6h", "log2FC": 3.35}, {"gene": "GBP2", "Time": "24h", "log2FC": 2.72},
                {"gene": "GBP3", "Time": "6h", "log2FC": 4.39}, {"gene": "GBP3", "Time": "24h", "log2FC": 3.68},
                {"gene": "GBP4", "Time": "6h", "log2FC": 5.41}, {"gene": "GBP4", "Time": "24h", "log2FC": 5.93},
                {"gene": "GBP5", "Time": "6h", "log2FC": 5.15}, {"gene": "GBP5", "Time": "24h", "log2FC": 5.87},
                {"gene": "GBP6", "Time": "6h", "log2FC": 2.98}, {"gene": "GBP6", "Time": "24h", "log2FC": 1.97},
                {"gene": "GBP7", "Time": "6h", "log2FC": 5.11}, {"gene": "GBP7", "Time": "24h", "log2FC": 5.26}
              ]},
              "mark": {"type": "bar", "stroke": "#333333", "strokeWidth": 1.5},
              "encoding": {
                "x": {"field": "gene", "type": "nominal", "scale": {"paddingInner": 0.35, "paddingOuter": 0.175},
                  "axis": {"title": null, "labelAngle": 0, "labelFontSize": 15.5, "labelFontWeight": "bold", "labelColor": "#000000", "domainColor": "#000000", "domainWidth": 2.5, "tickColor": "#000000", "tickWidth": 2.5, "tickSize": 7, "labelPadding": 8}},
                "xOffset": {"field": "Time", "type": "nominal", "scale": {"domain": ["6h", "24h"], "paddingInner": 0, "paddingOuter": 0}},
                "y": {"field": "log2FC", "type": "quantitative"},
                "fill": {"field": "Time", "type": "nominal", "scale": {"domain": ["6h", "24h"], "range": ["#eecdf5", "#cdf8cd"]},
                  "legend": {"orient": "none", "legendX": 280, "legendY": 416, "title": null, "symbolType": "square", "symbolSize": 169, "symbolStrokeColor": "#333333", "symbolStrokeWidth": 1.5, "labelFontSize": 18.5, "labelColor": "#111111", "rowPadding": -2, "labelOffset": 18}}
              }
            }
          ],
          "encoding": {
            "y": {"type": "quantitative", "scale": {"domain": [0, 8], "nice": false},
              "axis": {"values": [0, 2, 4, 6, 8], "grid": false, "title": "log₂ Fold Change", "titleFontSize": 19, "titleFontWeight": "bold", "titleColor": "#000000",
                "labelFontSize": 17, "labelFontWeight": "bold", "labelColor": "#000000", "domainColor": "#000000", "domainWidth": 2.5, "tickColor": "#000000", "tickWidth": 2.5, "tickSize": 7, "labelPadding": 3, "titlePadding": 12}}
          }
        }
      ]
    }
  ]
}
